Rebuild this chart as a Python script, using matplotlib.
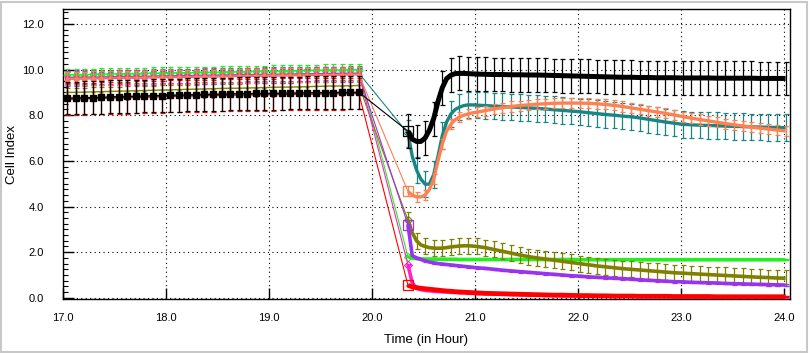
import numpy as np
import matplotlib
matplotlib.use("Agg")
import matplotlib.pyplot as plt
from matplotlib.ticker import MultipleLocator, FormatStrFormatter
from matplotlib.patches import Rectangle

# ---------------- data ----------------
# sampling times (hours)
t_pre = 17.04 + np.arange(35) / 12.0
t_post = 20.35 + np.concatenate([np.arange(16) / 24.0, (8 + np.arange(37)) / 12.0])

black_pre = [8.75, 8.75, 8.76, 8.77, 8.78, 8.80, 8.81, 8.82, 8.83, 8.84, 8.85, 8.86, 8.87, 8.88, 8.89, 8.90, 8.91, 8.92, 8.92, 8.93, 8.94, 8.94, 8.95, 8.95, 8.96, 8.96, 8.97, 8.97, 8.98, 8.98, 8.99, 8.99, 9.00, 9.00, 9.00]
red_pre = [8.70, 8.71, 8.72, 8.73, 8.74, 8.75, 8.76, 8.77, 8.78, 8.79, 8.80, 8.81, 8.82, 8.83, 8.84, 8.85, 8.86, 8.86, 8.87, 8.88, 8.88, 8.89, 8.89, 8.90, 8.90, 8.91, 8.91, 8.92, 8.92, 8.93, 8.93, 8.94, 8.94, 8.95, 8.95]
olive_pre = [9.00, 9.00, 9.01, 9.02, 9.03, 9.04, 9.05, 9.06, 9.07, 9.08, 9.09, 9.10, 9.11, 9.12, 9.13, 9.14, 9.15, 9.16, 9.17, 9.18, 9.18, 9.19, 9.20, 9.21, 9.22, 9.23, 9.23, 9.24, 9.25, 9.26, 9.27, 9.28, 9.28, 9.29, 9.30]
green_pre = [9.77, 9.78, 9.78, 9.79, 9.80, 9.80, 9.81, 9.82, 9.82, 9.83, 9.84, 9.84, 9.85, 9.86, 9.86, 9.87, 9.88, 9.88, 9.89, 9.90, 9.90, 9.91, 9.92, 9.92, 9.93, 9.94, 9.94, 9.95, 9.96, 9.96, 9.97, 9.98, 9.98, 9.99, 9.99]
magenta_pre = [9.62, 9.63, 9.63, 9.64, 9.64, 9.65, 9.66, 9.66, 9.67, 9.67, 9.68, 9.69, 9.69, 9.70, 9.70, 9.71, 9.72, 9.72, 9.73, 9.73, 9.74, 9.75, 9.75, 9.76, 9.76, 9.77, 9.77, 9.78, 9.78, 9.79, 9.79, 9.80, 9.80, 9.81, 9.81]
salmon_pre = [9.60, 9.61, 9.61, 9.62, 9.62, 9.63, 9.64, 9.64, 9.65, 9.65, 9.66, 9.67, 9.67, 9.68, 9.68, 9.69, 9.70, 9.70, 9.71, 9.71, 9.72, 9.73, 9.73, 9.74, 9.74, 9.75, 9.75, 9.76, 9.76, 9.77, 9.77, 9.78, 9.78, 9.79, 9.79]
purple_pre = [9.58, 9.59, 9.59, 9.60, 9.60, 9.61, 9.62, 9.62, 9.63, 9.63, 9.64, 9.65, 9.65, 9.66, 9.66, 9.67, 9.68, 9.68, 9.69, 9.69, 9.70, 9.71, 9.71, 9.72, 9.72, 9.73, 9.73, 9.74, 9.74, 9.75, 9.75, 9.76, 9.76, 9.77, 9.77]
teal_pre = [9.65, 9.66, 9.66, 9.67, 9.67, 9.68, 9.69, 9.69, 9.70, 9.70, 9.71, 9.72, 9.72, 9.73, 9.73, 9.74, 9.75, 9.75, 9.76, 9.76, 9.77, 9.78, 9.78, 9.79, 9.79, 9.80, 9.80, 9.81, 9.81, 9.82, 9.82, 9.83, 9.83, 9.84, 9.84]

black_post = [7.30, 6.95, 6.85, 6.85, 7.00, 7.35, 7.85, 8.60, 9.20, 9.60, 9.75, 9.82, 9.83, 9.83, 9.82, 9.81,
              9.80, 9.79, 9.78, 9.78, 9.77, 9.77, 9.76, 9.76, 9.75, 9.74, 9.73, 9.72, 9.71, 9.70, 9.69, 9.68, 9.67, 9.66, 9.66, 9.65, 9.65,
              9.64, 9.64, 9.64, 9.63, 9.63, 9.63, 9.63, 9.62, 9.62, 9.62, 9.62, 9.62, 9.61, 9.61, 9.61, 9.61]
teal_post = [7.20, 6.20, 5.60, 5.20, 4.98, 4.98, 5.40, 6.20, 7.10, 7.70, 8.05, 8.25, 8.35, 8.42, 8.45, 8.45,
             8.44, 8.42, 8.40, 8.38, 8.36, 8.34, 8.32, 8.30, 8.27, 8.24, 8.21, 8.18, 8.15, 8.11, 8.07, 8.03, 8.00, 7.96, 7.93,
             7.88, 7.82, 7.76, 7.70, 7.65, 7.60, 7.58, 7.56, 7.55, 7.54, 7.52, 7.51, 7.50, 7.49, 7.48, 7.47, 7.46, 7.45]
salmon_post = [4.66, 4.50, 4.42, 4.42, 4.50, 4.75, 5.20, 6.00, 6.75, 7.30, 7.60, 7.80, 7.92, 8.00, 8.05, 8.10,
               8.13, 8.20, 8.27, 8.33, 8.38, 8.42, 8.45, 8.48, 8.50, 8.52, 8.53, 8.53, 8.53, 8.52, 8.50, 8.47, 8.43, 8.38, 8.32,
               8.26, 8.20, 8.14, 8.08, 8.01, 7.94, 7.87, 7.81, 7.75, 7.69, 7.63, 7.58, 7.53, 7.48, 7.43, 7.39, 7.35, 7.31]
olive_post = [3.40, 2.85, 2.50, 2.32, 2.25, 2.20, 2.18, 2.17, 2.18, 2.20, 2.23, 2.25, 2.27, 2.28, 2.28, 2.27,
              2.25, 2.20, 2.12, 2.04, 1.96, 1.88, 1.81, 1.75, 1.70, 1.65, 1.60, 1.55, 1.50, 1.45, 1.40, 1.36, 1.32, 1.28, 1.25, 1.22,
              1.19, 1.16, 1.13, 1.10, 1.08, 1.06, 1.04, 1.02, 1.00, 0.98, 0.96, 0.94, 0.92, 0.90, 0.89, 0.87, 0.86]
purple_post = [3.20, 1.85, 1.75, 1.68, 1.62, 1.57, 1.53, 1.50, 1.48, 1.46, 1.44, 1.42, 1.40, 1.38, 1.36, 1.34,
               1.32, 1.29, 1.25, 1.21, 1.18, 1.15, 1.12, 1.09, 1.06, 1.03, 1.00, 0.97, 0.95, 0.92, 0.90, 0.88, 0.86, 0.84, 0.82, 0.79,
               0.77, 0.75, 0.73, 0.71, 0.70, 0.68, 0.67, 0.66, 0.65, 0.63, 0.62, 0.61, 0.60, 0.59, 0.58, 0.57, 0.56]
green_post = [1.80, 1.74, 1.72, 1.71, 1.70, 1.70, 1.70, 1.69, 1.69, 1.69, 1.69, 1.69, 1.68, 1.68, 1.68, 1.68,
              1.68, 1.68, 1.68, 1.68, 1.68, 1.68, 1.68, 1.68, 1.68, 1.68, 1.68, 1.68, 1.67, 1.67, 1.67, 1.67, 1.67, 1.67, 1.67, 1.67,
              1.67, 1.67, 1.67, 1.67, 1.67, 1.67, 1.67, 1.67, 1.67, 1.67, 1.67, 1.67, 1.67, 1.67, 1.67, 1.67, 1.67]
magenta_post = [1.45, 0.65, 0.42, 0.36, 0.33, 0.31, 0.29, 0.28, 0.27, 0.26, 0.25, 0.24, 0.23, 0.22, 0.21, 0.20,
                0.19, 0.18, 0.17, 0.16, 0.15, 0.14, 0.13, 0.12, 0.11, 0.10, 0.09, 0.09, 0.08, 0.08, 0.07, 0.07, 0.06, 0.06, 0.06,
                0.05, 0.05, 0.05, 0.05, 0.04, 0.04, 0.04, 0.04, 0.04, 0.03, 0.03, 0.03, 0.03, 0.03, 0.03, 0.03, 0.03, 0.03]
red_post = [0.55, 0.48, 0.45, 0.42, 0.40, 0.38, 0.36, 0.34, 0.32, 0.30, 0.29, 0.27, 0.26, 0.25, 0.24, 0.23,
            0.22, 0.20, 0.19, 0.18, 0.17, 0.16, 0.15, 0.14, 0.13, 0.12, 0.12, 0.11, 0.10, 0.10, 0.09, 0.09,
            0.08, 0.08, 0.08, 0.07, 0.07, 0.07, 0.07, 0.06, 0.06, 0.06, 0.06, 0.06, 0.05, 0.05, 0.05, 0.05, 0.05, 0.05, 0.05, 0.05, 0.05]

# standard deviations (pre, post)
sd_pre = {"teal": 0.30, "green": 0.25, "olive": 0.20, "purple": 0.30, "magenta": 0.30,
          "salmon": 0.30, "red": 0.70, "black": 0.72}
sd_post = {"teal": 0.58, "green": 0.03, "olive": 0.35, "purple": 0.04, "magenta": 0.03,
           "salmon": 0.22, "red": 0.03, "black": 0.74}

x_ticks = [17.0, 18.0, 19.0, 20.0, 21.0, 22.0, 23.0, 24.0]
y_ticks = [0.0, 2.0, 4.0, 6.0, 8.0, 10.0, 12.0]

# ---------------- styles ----------------
series = [
    # name, pre, post, color, marker, ms, post lw, boxed
    ("teal", teal_pre, teal_post, "#1a8585", "o", 2.5, 2.4, False),
    ("green", green_pre, green_post, "#22ee22", "D", 3.5, 2.6, False),
    ("olive", olive_pre, olive_post, "#808000", "+", 3.0, 2.6, False),
    ("purple", purple_pre, purple_post, "#9933ee", "o", 2.5, 2.6, True),
    ("magenta", magenta_pre, magenta_post, "#ff22cc", "s", 3.0, 2.6, False),
    ("salmon", salmon_pre, salmon_post, "#ff8050", "^", 3.0, 2.4, True),
    ("red", red_pre, red_post, "#ff0000", "o", 2.5, 3.4, True),
    ("black", black_pre, black_post, "#000000", "s", 4.5, 3.6, True),
]

fig = plt.figure(figsize=(8.12, 3.53), dpi=100)
fig.patch.set_facecolor("white")
ax = fig.add_axes([63 / 812, 1 - 299 / 353, (790 - 63) / 812, (299 - 9) / 353])

# error bar positions on post grid: every 5 minutes
err_idx_post = np.array([i for i in range(16) if i % 2 == 0] + list(range(16, 53)))

for z, (name, pre, post, col, mk, ms, lw, boxed) in enumerate(series):
    pre = np.asarray(pre)
    post = np.asarray(post)
    zo = 3 + z
    ax.errorbar(t_pre, pre, yerr=sd_pre[name], fmt="none", ecolor=col, elinewidth=0.9,
                capsize=1.8, capthick=0.9, zorder=zo)
    ax.plot(t_pre, pre, color=col, lw=1.0, marker=mk, ms=ms, mec=col, mfc=col, zorder=zo + 0.1)
    ax.plot([t_pre[-1], t_post[0]], [pre[-1], post[0]], color=col, lw=0.8, zorder=zo)
    ax.errorbar(t_post[err_idx_post], post[err_idx_post], yerr=sd_post[name], fmt="none",
                ecolor=col, elinewidth=0.9, capsize=1.8, capthick=0.9, zorder=zo)
    ax.plot(t_post, post, color=col, lw=lw, solid_capstyle="butt", zorder=zo + 0.1)
    if boxed:
        ax.plot([t_post[0]], [post[0]], marker="s", ms=7, mfc="none", mec=col, mew=0.9,
                zorder=zo + 0.2)
    else:
        ax.plot([t_post[0]], [post[0]], marker="D", ms=4, mfc="none", mec=col, mew=0.8,
                zorder=zo + 0.2)

ax.set_xlim(17.0, 24.06)
ax.set_ylim(-0.05, 12.65)
ax.set_xticks(x_ticks)
ax.set_yticks(y_ticks)
ax.xaxis.set_major_formatter(FormatStrFormatter("%.1f"))
ax.yaxis.set_major_formatter(FormatStrFormatter("%.1f"))
ax.yaxis.set_minor_locator(MultipleLocator(0.25))

ax.grid(True, which="major", color="black", linestyle=(0, (1, 3)), linewidth=0.8)
ax.tick_params(axis="both", which="major", direction="in", length=8, width=1.0,
               labelsize=8, colors="black")
ax.tick_params(axis="y", which="major", pad=14)
ax.tick_params(axis="x", which="major", pad=10)
ax.tick_params(axis="y", which="minor", direction="in", length=3.5, width=0.8)
for sp in ax.spines.values():
    sp.set_linewidth(1.0)
    sp.set_color("black")

for lab in ax.get_xticklabels() + ax.get_yticklabels():
    lab.set_fontfamily("Liberation Sans")

ax.set_xlabel("Time (in Hour)", fontsize=9.5, family="Liberation Sans", labelpad=8)
ax.set_ylabel("Cell Index", fontsize=9.5, family="Liberation Sans", labelpad=3)

# panel border
fig.add_artist(Rectangle((1.5 / 812, 1.5 / 353), 806 / 812, 350 / 353, transform=fig.transFigure,
                         fill=False, edgecolor="#c8c8c8", linewidth=1.5))

fig.savefig("out.png", dpi=100, facecolor="white")
